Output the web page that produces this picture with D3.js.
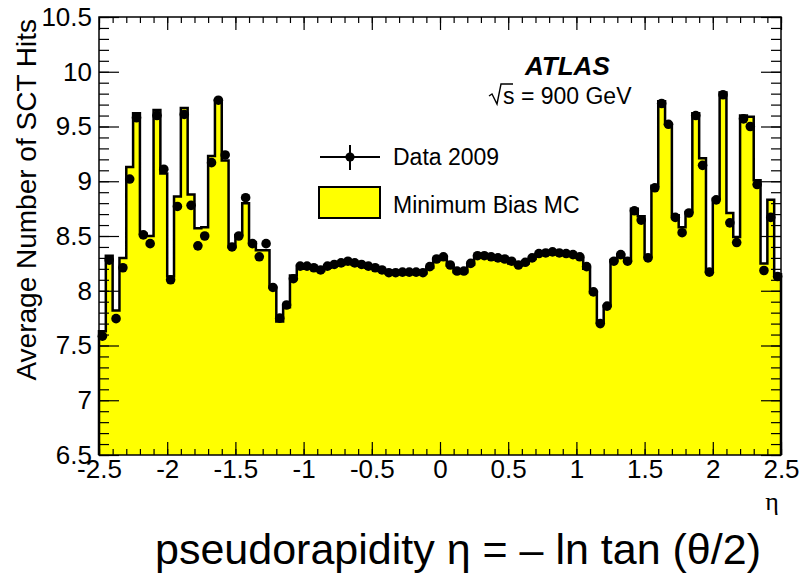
<!DOCTYPE html>
<html>
<head>
<meta charset="utf-8">
<script src="https://cdn.jsdelivr.net/npm/d3@7"></script>
<style>
  body { margin: 0; background: #fff; }
  svg text { font-family: "Liberation Sans", Arial, Helvetica, sans-serif; }
</style>
</head>
<body>
<div id="chart"></div>
<script>
// binning of the eta histogram
var etaMin = -2.5, etaMax = 2.5, binWidth = 0.05;

// Minimum Bias MC, average SCT hits per eta bin (100 bins)
var mcValues = [
  7.63, 8.32, 7.82, 8.30, 9.13, 9.62, 8.52, 8.50, 9.65, 9.07,
  8.13, 8.86, 9.67, 8.88, 8.57, 8.58, 9.23, 9.74, 9.19, 8.40,
  8.51, 8.80, 8.44, 8.37, 8.37, 8.03, 7.72, 7.85, 8.14, 8.20,
  8.21, 8.20, 8.18, 8.21, 8.23, 8.24, 8.26, 8.24, 8.23, 8.21,
  8.20, 8.18, 8.16, 8.16, 8.16, 8.16, 8.16, 8.16, 8.21, 8.28,
  8.30, 8.23, 8.17, 8.17, 8.24, 8.31, 8.31, 8.30, 8.29, 8.28,
  8.25, 8.23, 8.25, 8.29, 8.33, 8.34, 8.35, 8.34, 8.33, 8.32,
  8.30, 8.20, 7.98, 7.71, 7.86, 8.28, 8.33, 8.28, 8.75, 8.68,
  8.31, 8.96, 9.73, 9.52, 8.69, 8.58, 8.72, 9.62, 9.21, 8.18,
  8.84, 9.81, 8.71, 8.49, 9.60, 9.59, 9.01, 8.25, 8.83, 8.15
];

// Data 2009
var dataValues = [
  7.585, 8.28, 7.745, 8.21, 9.02, 9.58, 8.51, 8.43, 9.60, 9.11,
  8.10, 8.77, 9.61, 8.78, 8.41, 8.50, 9.17, 9.74, 9.24, 8.40,
  8.50, 8.85, 8.43, 8.31, 8.43, 8.03, 7.75, 7.87, 8.11, 8.225,
  8.225, 8.21, 8.19, 8.225, 8.24, 8.255, 8.27, 8.255, 8.24, 8.225,
  8.21, 8.19, 8.165, 8.165, 8.17, 8.17, 8.17, 8.165, 8.22, 8.29,
  8.31, 8.235, 8.18, 8.18, 8.25, 8.32, 8.32, 8.31, 8.30, 8.29,
  8.27, 8.235, 8.26, 8.30, 8.34, 8.345, 8.355, 8.345, 8.34, 8.33,
  8.31, 8.22, 7.99, 7.70, 7.86, 8.27, 8.33, 8.27, 8.73, 8.645,
  8.30, 8.94, 9.71, 9.52, 8.67, 8.53, 8.71, 9.60, 9.145, 8.17,
  8.83, 9.79, 8.62, 8.44, 9.57, 9.50, 8.97, 8.185, 8.67, 8.13
];

var xMajorTicks = [-2.5, -2, -1.5, -1, -0.5, 0, 0.5, 1, 1.5, 2, 2.5];
var yMajorTicks = [6.5, 7, 7.5, 8, 8.5, 9, 9.5, 10, 10.5];

function draw() {
  var width = 811, height = 578;
  var padL = 99, padR = 781, padT = 17, padB = 455;

  var svg = d3.select("#chart").append("svg")
      .attr("width", width)
      .attr("height", height);

  svg.append("rect").attr("width", width).attr("height", height).attr("fill", "#fff");

  var x = d3.scaleLinear().domain([etaMin, etaMax]).range([padL, padR]);
  var y = d3.scaleLinear().domain([6.5, 10.5]).range([padB, padT]);

  // histogram as steps
  var steps = mcValues.map(function(v, i) {
    return { e: etaMin + i * binWidth, v: v };
  });
  steps.push({ e: etaMax, v: mcValues[mcValues.length - 1] });

  var area = d3.area()
      .x(function(d) { return x(d.e); })
      .y0(y(6.5))
      .y1(function(d) { return y(d.v); })
      .curve(d3.curveStepAfter);

  svg.append("path")
      .datum(steps)
      .attr("d", area)
      .attr("fill", "#ffff00");

  var outline = [{ e: etaMin, v: 6.5 }].concat(steps).concat([{ e: etaMax, v: 6.5 }]);
  var line = d3.line()
      .x(function(d) { return x(d.e); })
      .y(function(d) { return y(d.v); })
      .curve(d3.curveStepAfter);

  svg.append("path")
      .datum(outline)
      .attr("d", line)
      .attr("fill", "none")
      .attr("stroke", "#000")
      .attr("stroke-width", 2.5);

  // data points
  svg.append("g").selectAll("circle")
      .data(dataValues)
      .enter().append("circle")
      .attr("cx", function(d, i) { return x(etaMin + (i + 0.5) * binWidth); })
      .attr("cy", function(d) { return y(d); })
      .attr("r", 4.8)
      .attr("fill", "#000");

  // axes, ROOT style: ticks inside on all four sides
  var yMinor = d3.range(65, 106).map(function(d) { return d / 10; });
  var xMinor = d3.range(-25, 26).map(function(d) { return d / 10; });
  var fmt = function(d) { return String(d); };

  function styleAxis(g) {
    g.select(".domain").remove();
    g.selectAll("line").attr("stroke", "#000").attr("stroke-width", 1.2);
    g.selectAll("text").attr("font-size", 26).attr("fill", "#000")
      .style("font-family", "'Liberation Sans', Arial, sans-serif");
  }

  svg.append("g").attr("transform", "translate(" + padL + ",0)")
      .call(d3.axisLeft(y).tickValues(yMajorTicks).tickSize(-20).tickPadding(7).tickFormat(fmt))
      .call(styleAxis);
  svg.append("g").attr("transform", "translate(" + padL + ",0)")
      .call(d3.axisLeft(y).tickValues(yMinor).tickSize(-10).tickFormat(""))
      .call(styleAxis);
  svg.append("g").attr("transform", "translate(" + padR + ",0)")
      .call(d3.axisRight(y).tickValues(yMajorTicks).tickSize(-20).tickFormat(""))
      .call(styleAxis);
  svg.append("g").attr("transform", "translate(" + padR + ",0)")
      .call(d3.axisRight(y).tickValues(yMinor).tickSize(-10).tickFormat(""))
      .call(styleAxis);

  svg.append("g").attr("transform", "translate(0," + padB + ")")
      .call(d3.axisBottom(x).tickValues(xMajorTicks).tickSize(-13).tickPadding(5).tickFormat(fmt))
      .call(styleAxis);
  svg.append("g").attr("transform", "translate(0," + padB + ")")
      .call(d3.axisBottom(x).tickValues(xMinor).tickSize(-6).tickFormat(""))
      .call(styleAxis);
  svg.append("g").attr("transform", "translate(0," + padT + ")")
      .call(d3.axisTop(x).tickValues(xMajorTicks).tickSize(-13).tickFormat(""))
      .call(styleAxis);
  svg.append("g").attr("transform", "translate(0," + padT + ")")
      .call(d3.axisTop(x).tickValues(xMinor).tickSize(-6).tickFormat(""))
      .call(styleAxis);

  // frame
  svg.append("rect")
      .attr("x", padL).attr("y", padT)
      .attr("width", padR - padL).attr("height", padB - padT)
      .attr("fill", "none").attr("stroke", "#000").attr("stroke-width", 1.5);

  // axis titles
  svg.append("text")
      .attr("transform", "translate(36," + (padT + 2) + ") rotate(-90)")
      .attr("text-anchor", "end")
      .attr("font-size", 28)
      .text("Average Number of SCT Hits");

  svg.append("text")
      .attr("x", 772).attr("y", 510)
      .attr("text-anchor", "middle")
      .attr("font-size", 26)
      .style("font-family", "'Liberation Serif', 'DejaVu Serif', serif")
      .text("η");

  svg.append("text")
      .attr("x", 155).attr("y", 564)
      .attr("font-size", 43)
      .text("pseudorapidity η = – ln tan (θ/2)");

  // ATLAS label
  svg.append("text")
      .attr("x", 525).attr("y", 75)
      .attr("font-size", 26)
      .attr("font-weight", "bold")
      .attr("font-style", "italic")
      .text("ATLAS");

  svg.append("path")
      .attr("d", "M489,96 L492,94 L497,104 L501,84 L513,84")
      .attr("fill", "none").attr("stroke", "#000").attr("stroke-width", 1.4);
  svg.append("text")
      .attr("x", 503).attr("y", 104)
      .attr("font-size", 23)
      .text("s = 900 GeV");

  // legend
  var lg = svg.append("g");
  lg.append("line").attr("x1", 320).attr("x2", 380).attr("y1", 157).attr("y2", 157)
      .attr("stroke", "#000").attr("stroke-width", 2);
  lg.append("line").attr("x1", 350).attr("x2", 350).attr("y1", 145).attr("y2", 170)
      .attr("stroke", "#000").attr("stroke-width", 2);
  lg.append("circle").attr("cx", 350).attr("cy", 157).attr("r", 4.6).attr("fill", "#000");
  lg.append("text").attr("x", 393).attr("y", 165).attr("font-size", 23).text("Data 2009");

  lg.append("rect").attr("x", 319).attr("y", 187).attr("width", 61).attr("height", 31)
      .attr("fill", "#ffff00").attr("stroke", "#000").attr("stroke-width", 2);
  lg.append("text").attr("x", 393).attr("y", 213).attr("font-size", 23).text("Minimum Bias MC");
}

draw();
</script>
</body>
</html>
